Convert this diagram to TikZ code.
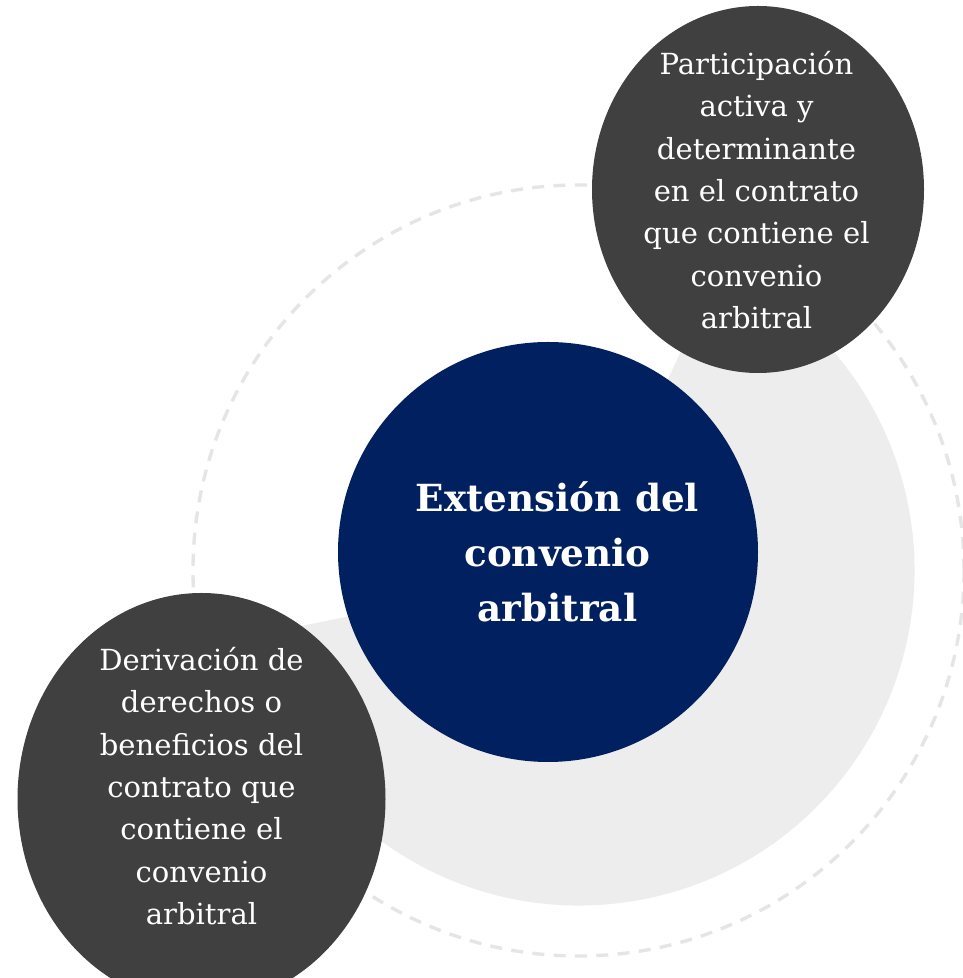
\documentclass[tikz,border=0pt]{standalone}
\usepackage{fontspec}
\setmainfont{DejaVu Serif}
\usetikzlibrary{shapes.geometric}
\definecolor{navyc}{HTML}{002060}
\definecolor{darkc}{HTML}{404040}
\definecolor{lightc}{HTML}{EDEDED}
\definecolor{dashc}{HTML}{E5E5E5}
\tikzset{
  ring/.style={draw=dashc, line width=2.5pt, dash pattern=on 9pt off 7pt},
  darkell/.style={ellipse, fill=darkc, draw=none, inner sep=0pt},
  smalltxt/.style={text=white, align=center, inner sep=0pt, font=\fontsize{21.8}{31.8}\selectfont},
  bigtxt/.style={text=white, align=center, inner sep=0pt, font=\fontsize{28}{41.25}\selectfont\bfseries},
}
\begin{document}
\begin{tikzpicture}[x=0.75pt,y=0.75pt]
\useasboundingbox (0,0) rectangle (963,978);
\clip (0,0) rectangle (963,978);
\fill[white] (0,0) rectangle (963,978);
\coordinate (c) at (579,408);
\draw[ring] (578.5,407.5) circle[radius=385.5];
\fill[lightc] (c) -- ++(-168.6:335.5) arc[start angle=-168.6,end angle=65,radius=335.5] -- cycle;
\node[circle, fill=navyc, minimum size=420*0.75pt, inner sep=0pt] (center) at (548,426) {};
\node[bigtxt] (centertxt) at (557.5,426) {Extensión del\\convenio\\arbitral};
\node[darkell, minimum width=332*0.75pt, minimum height=367*0.75pt] (tr) at (758,788.5) {};
\node[smalltxt] (trtxt) at (756.5,788) {Participación\\activa y\\determinante\\en el contrato\\que contiene el\\convenio\\arbitral};
\node[darkell, minimum width=368*0.75pt, minimum height=412*0.75pt] (bl) at (201.5,179) {};
\node[smalltxt] (bltxt) at (201.5,192) {Derivación de\\derechos o\\beneficios del\\contrato que\\contiene el\\convenio\\arbitral};
\end{tikzpicture}
\end{document}
